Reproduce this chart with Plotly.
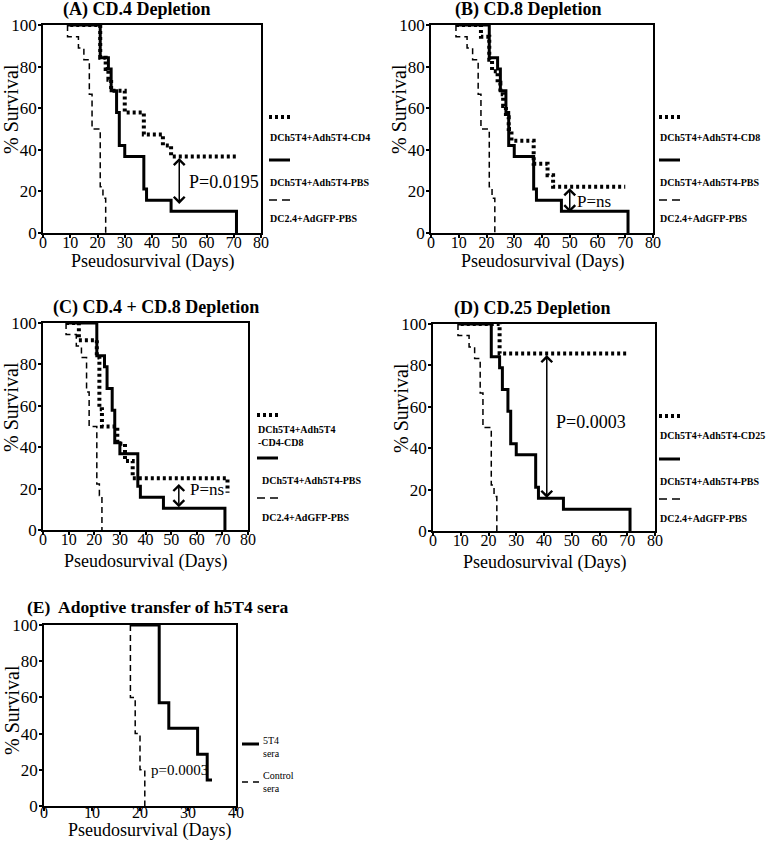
import plotly.graph_objects as go

# ---- data ----
# control group DC2.4+AdGFP-PBS (same curve in panels A-D)
dc_t = [9, 9, 13, 15, 17, 18, 21, 22, 23]
dc_s = [100, 94.4, 88.9, 83.3, 66.7, 50, 22.2, 16.7, 0]

# DCh5T4+Adh5T4-PBS (same curve in panels A-D)
pbs_t = [9, 21, 24, 25, 27, 28, 30, 37, 38, 47, 71]
pbs_s = [100, 84.2, 78.9, 68.4, 57.9, 42.1, 36.8, 21.1, 15.8, 10.5, 0]

# depleted groups
cd4_t = [10, 21, 23, 24, 25, 30, 37, 44, 47, 71]
cd4_s = [100, 84.2, 78.9, 73.7, 68.4, 57.9, 47.4, 42.1, 36.8, 36.8]

cd8_t = [9, 18, 21, 22, 24, 25, 26, 27, 28, 29, 37, 42, 44, 70]
cd8_s = [100, 94.4, 83.3, 77.8, 72.2, 66.7, 61.1, 55.6, 50, 44.4, 33.3, 27.8, 22.2, 22.2]

cd48_t = [9, 14, 21, 22, 23, 29, 32, 35, 72]
cd48_s = [100, 91.7, 83.3, 58.3, 50, 41.7, 33.3, 25, 18]

cd25_t = [10, 24, 70]
cd25_s = [100, 85.7, 85.7]

# panel E: adoptive transfer
sera_t = [18, 24, 26, 32, 34, 35]
sera_s = [100, 57.1, 42.9, 28.6, 14.3, 14.3]
ctrl_t = [18, 18, 19, 20, 21]
ctrl_s = [100, 60, 40, 20, 0]

# p-value labels and arrow spans (x, y top, y bottom)
p_text = ["P=0.0195", "P=ns", "P=ns", "P=0.0003"]
p_arrow = [(50, 36.8, 14), (50, 22.2, 10), (53, 23, 11), (41, 85.7, 16)]
p_pos = [(53, 24.5), (52, 15), (56.5, 19.5), (43.5, 52.5)]

W, H = 767, 842
FONT = "Liberation Serif"


def fx(p):
    return p / W


def fy(p):
    return 1 - p / H


solid = dict(color="black", width=3)
dotted = dict(color="black", width=4, dash="3px,3px")
dashed = dict(color="black", width=1.5, dash="6px,4px")
dashed_key = dict(color="black", width=1.5, dash="8px,5px")

# panel geometry in pixels: left, right, top, bottom
panels = [
    dict(title="<b>(A) CD.4 Depletion</b>", box=(43, 261, 25, 233), tcx=136,
         treat=(cd4_t, cd4_s), leg="DCh5T4+Adh5T4-CD4", lx=268),
    dict(title="<b>(B) CD.8 Depletion</b>", box=(431, 653, 25, 233), tcx=528,
         treat=(cd8_t, cd8_s), leg="DCh5T4+Adh5T4-CD8", lx=658),
    dict(title="<b>(C) CD.4 + CD.8 Depletion</b>", box=(43, 248, 323, 530), tcx=156,
         treat=(cd48_t, cd48_s), leg="DCh5T4+Adh5T4<br>-CD4-CD8", lx=256),
    dict(title="<b>(D) CD.25 Depletion</b>", box=(433, 655, 324, 531), tcx=532,
         treat=(cd25_t, cd25_s), leg="DCh5T4+Adh5T4-CD25", lx=658),
]

fig = go.Figure()
layout = dict(
    width=W, height=H, margin=dict(l=0, r=0, t=0, b=0, autoexpand=False),
    paper_bgcolor="white", plot_bgcolor="white", showlegend=False,
    font=dict(family=FONT, color="black"),
)
annotations = []
shapes = []

axis_common = dict(showline=True, mirror=True, linecolor="black", linewidth=1.5,
                   ticks="outside", ticklen=3, tickwidth=1.5, tickcolor="black",
                   showgrid=False, zeroline=False)


def add_axes(i, box, xr, xdtick, xstand=-9):
    l, r, t, b = box
    sfx = "" if i == 1 else str(i)
    layout["xaxis" + sfx] = dict(axis_common, domain=[fx(l), fx(r)], range=xr, dtick=xdtick,
                                 anchor="y" + sfx, ticklabelstandoff=xstand,
                                 tickfont=dict(family=FONT, size=16, color="black"))
    layout["yaxis" + sfx] = dict(axis_common, domain=[fy(b), fy(t)], range=[0, 100], dtick=20,
                                 anchor="x" + sfx, ticklabelstandoff=-2,
                                 tickfont=dict(family=FONT, size=17, color="black"))
    return "x" + sfx, "y" + sfx


def text_at(text, x, y, size, angle=0, xanchor="center"):
    annotations.append(dict(text=text, x=fx(x), y=fy(y), xref="paper", yref="paper",
                            xanchor=xanchor, yanchor="middle", align="left", textangle=angle,
                            showarrow=False, font=dict(family=FONT, size=size)))


def leg_line(x0, x1, y, line):
    shapes.append(dict(type="line", xref="paper", yref="paper", x0=fx(x0), x1=fx(x1),
                       y0=fy(y), y1=fy(y), line=line))


for i, p in enumerate(panels, start=1):
    xa, ya = add_axes(i, p["box"], [0, 80], 10)
    l, r, t, b = p["box"]
    fig.add_trace(go.Scatter(x=pbs_t, y=pbs_s, mode="lines", line=solid, line_shape="hv",
                             xaxis=xa, yaxis=ya))
    fig.add_trace(go.Scatter(x=dc_t, y=dc_s, mode="lines", line=dashed, line_shape="hv",
                             xaxis=xa, yaxis=ya))
    fig.add_trace(go.Scatter(x=p["treat"][0], y=p["treat"][1], mode="lines", line=dotted,
                             line_shape="hv", xaxis=xa, yaxis=ya))

    text_at(p["title"], p["tcx"], t - 16, 18)
    text_at("% Survival", l - 32, t + 84, 20, angle=-90)
    text_at("Pseudosurvival (Days)", (l + r) / 2, b + (28 if i < 3 else 31), 18)

    ax_x, ay_top, ay_bot = p_arrow[i - 1]
    annotations.append(dict(x=ax_x, y=ay_bot, ax=ax_x, ay=ay_top, xref=xa, yref=ya,
                            axref=xa, ayref=ya, text="", showarrow=True, arrowhead=4,
                            startarrowhead=4, arrowside="end+start", arrowsize=1.4,
                            startarrowsize=1.4, arrowwidth=1.5, arrowcolor="black"))
    annotations.append(dict(text=p_text[i - 1], x=p_pos[i - 1][0], y=p_pos[i - 1][1],
                            xref=xa, yref=ya, xanchor="left", yanchor="middle",
                            showarrow=False,
                            font=dict(family=FONT, size=18 if i in (1, 4) else 17)))

    # legend stacked on the right of each panel
    base = t + 92
    lx = p["lx"]
    leg_line(lx + 1, lx + 22, base, dotted)
    text_at("<b>%s</b>" % p["leg"], lx, base + (20 if i != 3 else 21), 10, xanchor="left")
    leg_line(lx + 1, lx + 22, base + 43, dict(color="black", width=3))
    text_at("<b>DCh5T4+Adh5T4-PBS</b>", lx if i != 3 else lx + 4, base + 65, 10, xanchor="left")
    leg_line(lx + 1, lx + 22, base + 83, dashed_key)
    text_at("<b>DC2.4+AdGFP-PBS</b>", lx if i != 3 else lx + 4, base + 102, 10, xanchor="left")

# panel E
box_e = (44, 236, 625, 806)
xa, ya = add_axes(5, box_e, [0, 40], 10, xstand=-12)
fig.add_trace(go.Scatter(x=ctrl_t, y=ctrl_s, mode="lines", line=dashed, line_shape="hv",
                         xaxis=xa, yaxis=ya))
fig.add_trace(go.Scatter(x=sera_t, y=sera_s, mode="lines", line=solid, line_shape="hv",
                         xaxis=xa, yaxis=ya))
text_at("<b>(E)  Adoptive transfer of h5T4 sera</b>", 157, 607, 17.5)
text_at("% Survival", 12, 710, 20, angle=-90)
text_at("Pseudosurvival (Days)", 149, 830, 18)
annotations.append(dict(text="p=0.0003", x=21.8, y=20, xref=xa, yref=ya, xanchor="left",
                        yanchor="middle", showarrow=False, font=dict(family=FONT, size=15)))
leg_line(242, 259, 744, dict(color="black", width=3))
text_at("5T4<br>sera", 261, 747, 10, xanchor="left")
leg_line(242, 259, 782, dict(color="black", width=1.5, dash="6px,5px"))
text_at("Control<br>sera", 261, 782, 10, xanchor="left")

layout["annotations"] = annotations
layout["shapes"] = shapes
fig.update_layout(**layout)

# drop the browser's default 8px body margin so the figure fills the window
fig.write_html("out.html", config={"displayModeBar": False},
               post_script="document.body.style.margin='0px';")
